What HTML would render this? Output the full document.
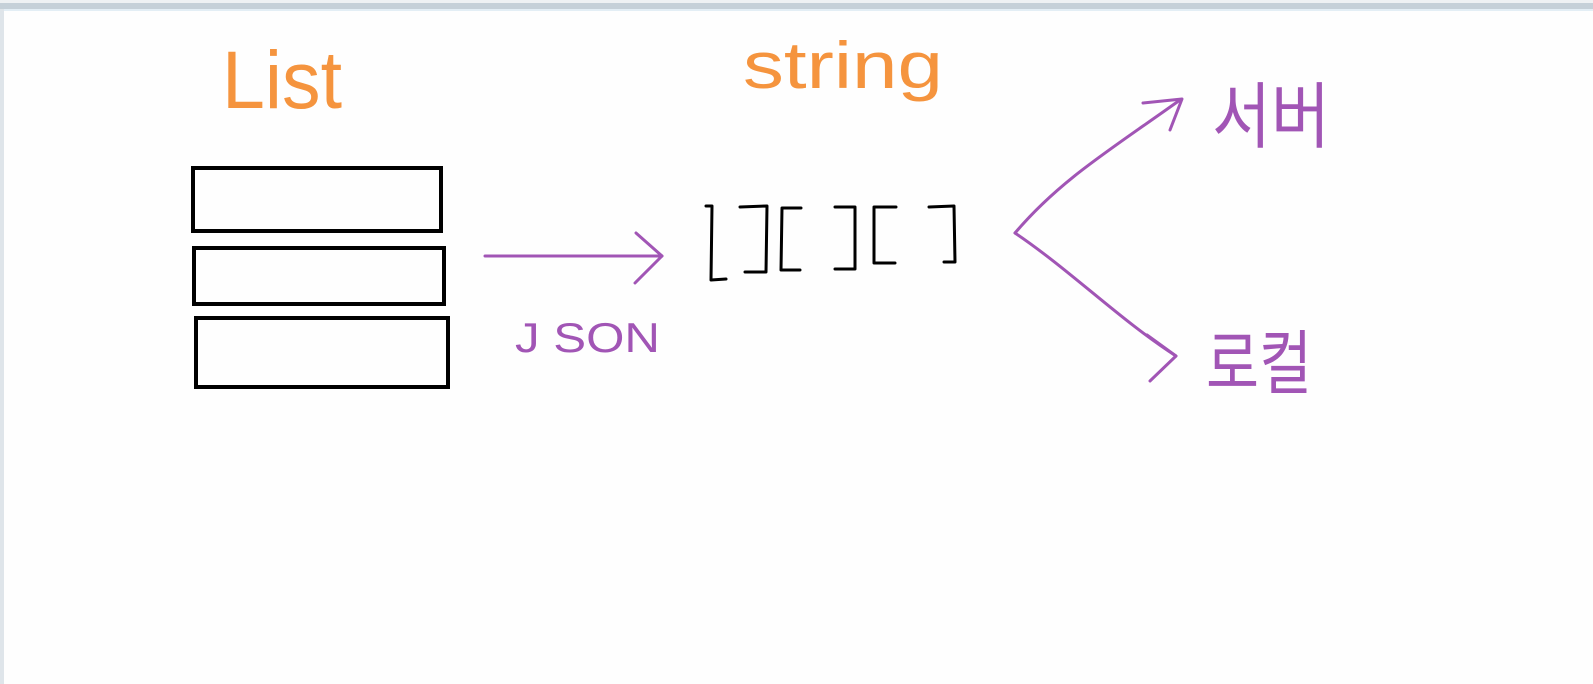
<!DOCTYPE html>
<html><head><meta charset="utf-8"><style>
html,body{margin:0;padding:0;background:#fff;}
svg{display:block;}
</style></head><body>
<svg width="1593" height="684" viewBox="0 0 1593 684" xmlns="http://www.w3.org/2000/svg">
<rect x="0" y="0" width="1593" height="684" fill="#fefefe"/>
<rect x="0" y="0" width="1593" height="3" fill="#eef1f3"/>
<rect x="0" y="3" width="1593" height="6" fill="#c5d0d8"/>
<rect x="0" y="9" width="1593" height="2" fill="#e3eef5"/>
<rect x="0" y="9" width="4" height="675" fill="#dfe5ea"/>
<g fill="none" stroke="#000" stroke-width="4">
<rect x="193" y="168" width="248" height="63"/>
<rect x="194" y="248" width="250" height="56"/>
<rect x="196" y="318" width="252" height="69"/>
</g>
<g fill="none" stroke="#000" stroke-width="3" stroke-linecap="round" stroke-linejoin="round">
<path d="M706 206 L712 206 L711 280 L726 279"/>
<path d="M740 207 L767 206 L766 272 L745 272"/>
<path d="M801 208 L782 208 L781 270 L800 270"/>
<path d="M835 207 L855 207 L855 269 L835 269"/>
<path d="M896 207 L874 207 L874 263 L895 263"/>
<path d="M929 207 L954 206 L955 262 L944 262"/>
</g>
<g fill="none" stroke="#a155b5" stroke-width="3" stroke-linecap="round" stroke-linejoin="round">
<path d="M485 256 L662 256"/>
<path d="M636 233 L662 256 L635 283"/>
<path d="M1015 233 C1060 180 1110 150 1180 100"/>
<path d="M1143 103 L1182 99 L1170 130"/>
<path d="M1015 233 C1070 270 1120 320 1176 356"/>
<path d="M1150 381 L1176 356 L1147 335"/>
</g>
<g font-family="Liberation Sans, sans-serif">
<text x="222" y="108" font-size="82" fill="#f5943e" textLength="120" lengthAdjust="spacingAndGlyphs" font-weight="normal">List</text>
<text x="743" y="88" font-size="66" fill="#f5943e" textLength="200" lengthAdjust="spacingAndGlyphs">string</text>
<text x="515" y="352" font-size="42" fill="#a155b5" textLength="145" lengthAdjust="spacingAndGlyphs">J SON</text>
</g>
<g font-family="Liberation Sans, 'Noto Sans CJK KR', sans-serif" fill="#a155b5">
<text x="1212" y="142" font-size="72" textLength="118" lengthAdjust="spacingAndGlyphs">서버</text>
<text x="1206" y="388" font-size="70" textLength="106" lengthAdjust="spacingAndGlyphs">로컬</text>
</g>
</svg>
</body></html>
